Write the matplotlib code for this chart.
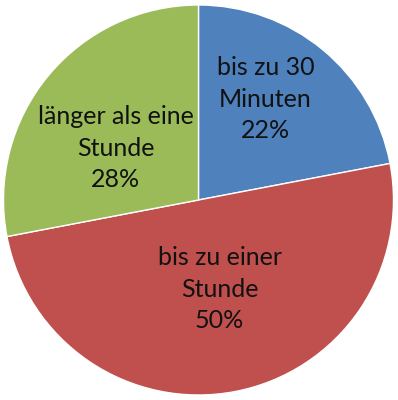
import numpy as np
import matplotlib.pyplot as plt

labels = ["bis zu 30\nMinuten", "bis zu einer\nStunde", "länger als eine\nStunde"]
shares = [22, 50, 28]
colors = ["#4F81BD", "#C0504D", "#9BBB59"]

# label placement per slice: (radius fraction, angle offset in degrees)
label_pos = [(0.62, 6.0), (0.47, 2.5), (0.50, 7.5)]

fig = plt.figure(figsize=(3.98, 4.0), dpi=100)
ax = fig.add_axes([0, 0, 1, 1])

r = 195
wedges, _ = ax.pie(shares, colors=colors, startangle=90, counterclock=False,
                   radius=1.0, center=(0, 0),
                   wedgeprops=dict(edgecolor="white", linewidth=1.0))

for w, lab, val, (rf, off) in zip(wedges, labels, shares, label_pos):
    mid = np.deg2rad((w.theta1 + w.theta2) / 2 + off)
    ax.text(rf * np.cos(mid), rf * np.sin(mid), f"{lab}\n{val}%",
            ha="center", va="center", fontsize=18, family="Lato",
            color="#111111", linespacing=1.45)

ax.set_xlim(-198.5 / r, (398 - 198.5) / r)
ax.set_ylim(-200 / r, 200 / r)
ax.set_aspect("auto")
ax.axis("off")

fig.savefig("out.png", dpi=100)
